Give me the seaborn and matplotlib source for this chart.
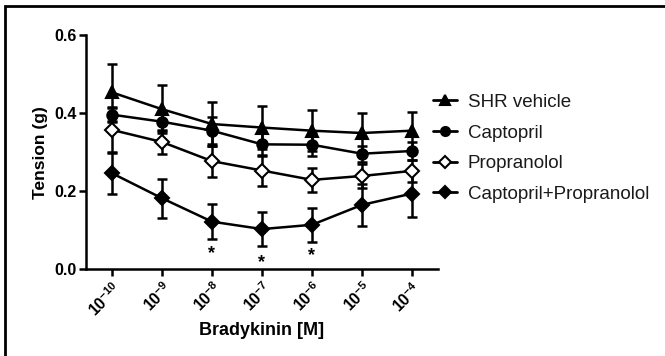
import matplotlib
matplotlib.use("Agg")
import matplotlib.pyplot as plt
import seaborn as sns
import numpy as np
import pandas as pd
from matplotlib.lines import Line2D
from matplotlib.patches import Rectangle

sns.set_theme(style="ticks")
plt.rcParams['font.family'] = ['Liberation Sans', 'DejaVu Sans']
plt.rcParams['mathtext.fontset'] = 'custom'
plt.rcParams['mathtext.rm'] = 'Liberation Sans'
plt.rcParams['mathtext.bf'] = 'Liberation Sans:bold'
plt.rcParams['text.color'] = 'black'
plt.rcParams['axes.labelcolor'] = 'black'
plt.rcParams['xtick.color'] = 'black'
plt.rcParams['ytick.color'] = 'black'

exponents = [-10, -9, -8, -7, -6, -5, -4]
tick_labels = [r'$\mathbf{10^{%d}}$' % e for e in exponents]

series_names = ["SHR vehicle", "Captopril", "Propranolol", "Captopril+Propranolol"]
shr_mean = [0.453, 0.410, 0.372, 0.363, 0.355, 0.349, 0.355]
shr_sem = [0.073, 0.062, 0.057, 0.056, 0.053, 0.051, 0.049]
cap_mean = [0.396, 0.378, 0.355, 0.320, 0.319, 0.296, 0.303]
cap_sem = [0.020, 0.025, 0.034, 0.030, 0.029, 0.020, 0.022]
pro_mean = [0.357, 0.326, 0.277, 0.253, 0.229, 0.239, 0.252]
pro_sem = [0.057, 0.030, 0.040, 0.039, 0.031, 0.030, 0.028]
combo_mean = [0.246, 0.182, 0.122, 0.103, 0.114, 0.165, 0.194]
combo_sem = [0.053, 0.050, 0.045, 0.043, 0.044, 0.054, 0.061]
star_idx = [2, 3, 4]
star_y = [0.040, 0.016, 0.036]

means = [shr_mean, cap_mean, pro_mean, combo_mean]
sems = [shr_sem, cap_sem, pro_sem, combo_sem]
markers = ['^', 'o', 'D', 'D']
faces = ['black', 'black', 'white', 'black']
msizes = [8, 7.5, 7, 7]

fig = plt.figure(figsize=(6.65, 3.56), dpi=100)
ax = fig.add_axes([86/665, 1-269.3/356, (438-86)/665, (269.3-35)/356])

x = np.arange(len(exponents))
handles = []
for name, m, s, mk, fc, ms in zip(series_names, means, sems, markers, faces, msizes):
    df = pd.DataFrame({"x": x, "y": m})
    ax.errorbar(x, m, yerr=s, fmt='none', ecolor='black', elinewidth=1.8,
                capsize=3.8, capthick=1.8, zorder=2)
    sns.lineplot(data=df, x="x", y="y", ax=ax, color='black', linewidth=1.8,
                 marker=mk, markersize=ms, markerfacecolor=fc,
                 markeredgecolor='black', markeredgewidth=1.5, zorder=3)
    handles.append(Line2D([], [], color='black', linewidth=2, marker=mk,
                          markersize=ms - 1, markerfacecolor=fc,
                          markeredgecolor='black', markeredgewidth=1.5))

for i, yv in zip(star_idx, star_y):
    ax.text(x[i], yv, '*', ha='center', va='center', fontsize=13,
            fontweight='bold', color='black')

ax.set_xlim(-0.52, 6.52)
ax.set_ylim(0, 0.6)
ax.set_yticks([0.0, 0.2, 0.4, 0.6])
ax.set_yticklabels(['0.0', '0.2', '0.4', '0.6'], fontweight='bold', fontsize=11.5)
ax.set_xticks(x)
ax.set_xticklabels(tick_labels, rotation=45, ha='right', rotation_mode='anchor',
                   fontsize=11.5)
ax.tick_params(axis='both', width=1.8, length=5, color='black', labelcolor='black')
ax.tick_params(axis='x', pad=2)
ax.tick_params(axis='y', pad=1.5)
for sp in ['top', 'right']:
    ax.spines[sp].set_visible(False)
for sp in ['left', 'bottom']:
    ax.spines[sp].set_linewidth(1.8)
    ax.spines[sp].set_color('black')
ax.set_xlabel('Bradykinin [M]', fontweight='bold', fontsize=13, labelpad=2)
ax.set_ylabel('Tension (g)', fontweight='bold', fontsize=12.5, labelpad=5)

leg = fig.legend(handles, series_names, loc='upper left',
                 bbox_to_anchor=(416/665, 1-77/356), frameon=False,
                 fontsize=13.5, handlelength=1.3, handletextpad=0.55,
                 labelspacing=0.72)
for t in leg.get_texts():
    t.set_color('#1a1a1a')

fig.patches.append(Rectangle((5/665, -0.1), 1.2, (1-6/356)+0.1, transform=fig.transFigure,
                             fill=False, edgecolor='black', linewidth=2))

fig.savefig('out.png', dpi=100)
